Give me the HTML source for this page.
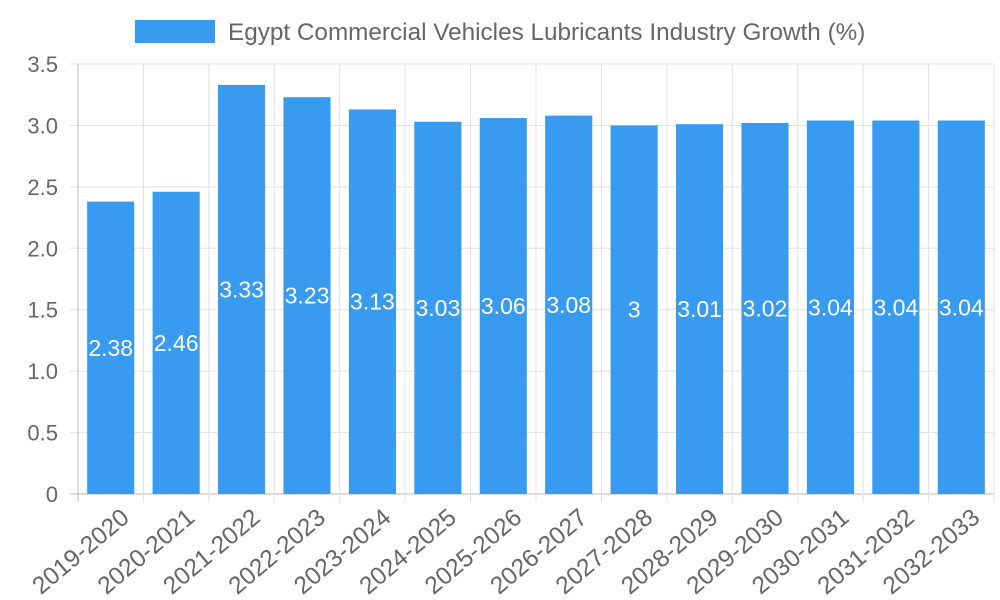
<!DOCTYPE html>
<html><head><meta charset="utf-8"><style>
html,body{margin:0;padding:0;background:#fff;}
svg{display:block;font-family:"Liberation Sans",sans-serif;}
</style></head><body>
<svg id="chart" width="1000" height="600">
<g id="grid"></g>
<g id="bars"></g>
<g id="labels"></g>
<g id="axes"></g>
<g>
<rect x="135" y="20" width="80" height="23" fill="#389bf0"/>
<text x="228" y="40" font-size="24.3" fill="#666">Egypt Commercial Vehicles Lubricants Industry Growth (%)</text>
</g>
</svg>
<script>
const categories = ["2019-2020","2020-2021","2021-2022","2022-2023","2023-2024","2024-2025","2025-2026","2026-2027","2027-2028","2028-2029","2029-2030","2030-2031","2031-2032","2032-2033"];
const values = [2.38,2.46,3.33,3.23,3.13,3.03,3.06,3.08,3,3.01,3.02,3.04,3.04,3.04];
const yTicks = [0,0.5,1.0,1.5,2.0,2.5,3.0,3.5];
const yTickLabels = ["0","0.5","1.0","1.5","2.0","2.5","3.0","3.5"];

const NS="http://www.w3.org/2000/svg";
const L=78,R=994,T=64,B=494,yMax=3.5;
const band=(R-L)/categories.length;
const y=v=>B-(v/yMax)*(B-T);
const xc=i=>L+band*(i+0.5);
function mk(tag,attrs,parent){const e=document.createElementNS(NS,tag);for(const k in attrs)e.setAttribute(k,attrs[k]);parent.appendChild(e);return e;}
const grid=document.getElementById('grid'),bars=document.getElementById('bars'),labels=document.getElementById('labels'),axes=document.getElementById('axes');
yTicks.forEach((t,i)=>{
  const ln=mk('line',{x1:70,x2:R,y1:y(t),y2:y(t),stroke:i===0?'#bbb':'#e0e0e0','stroke-width':1},grid);
  
  
  const tx=mk('text',{x:58,y:y(t)+8,'text-anchor':'end','font-size':22,fill:'#666'},axes);
  tx.textContent=yTickLabels[i];
  
  
});
for(let i=0;i<=categories.length;i++){
  const x=L+band*i;
  const ln=mk('line',{x1:x,x2:x,y1:T,y2:B+8,stroke:i===0?'#bbb':'#e0e0e0','stroke-width':1},grid);
  
  
}
categories.forEach((c,i)=>{
  const w=band*0.72,v=values[i];
  const r=mk('rect',{x:xc(i)-w/2,y:y(v),width:w,height:B-y(v),fill:'#389bf0'},bars);
  
  
  const t=mk('text',{x:xc(i),y:(y(v)+B)/2+8,'text-anchor':'middle','font-size':23,fill:'#fff'},labels);
  t.textContent=String(v);
  
  
  const xl=mk('text',{x:0,y:0,'text-anchor':'end','font-size':24.5,fill:'#666',transform:`translate(${xc(i)+20},${B+26}) rotate(-40)`},axes);
  xl.textContent=c;
  
  
});
</script>
</body></html>
